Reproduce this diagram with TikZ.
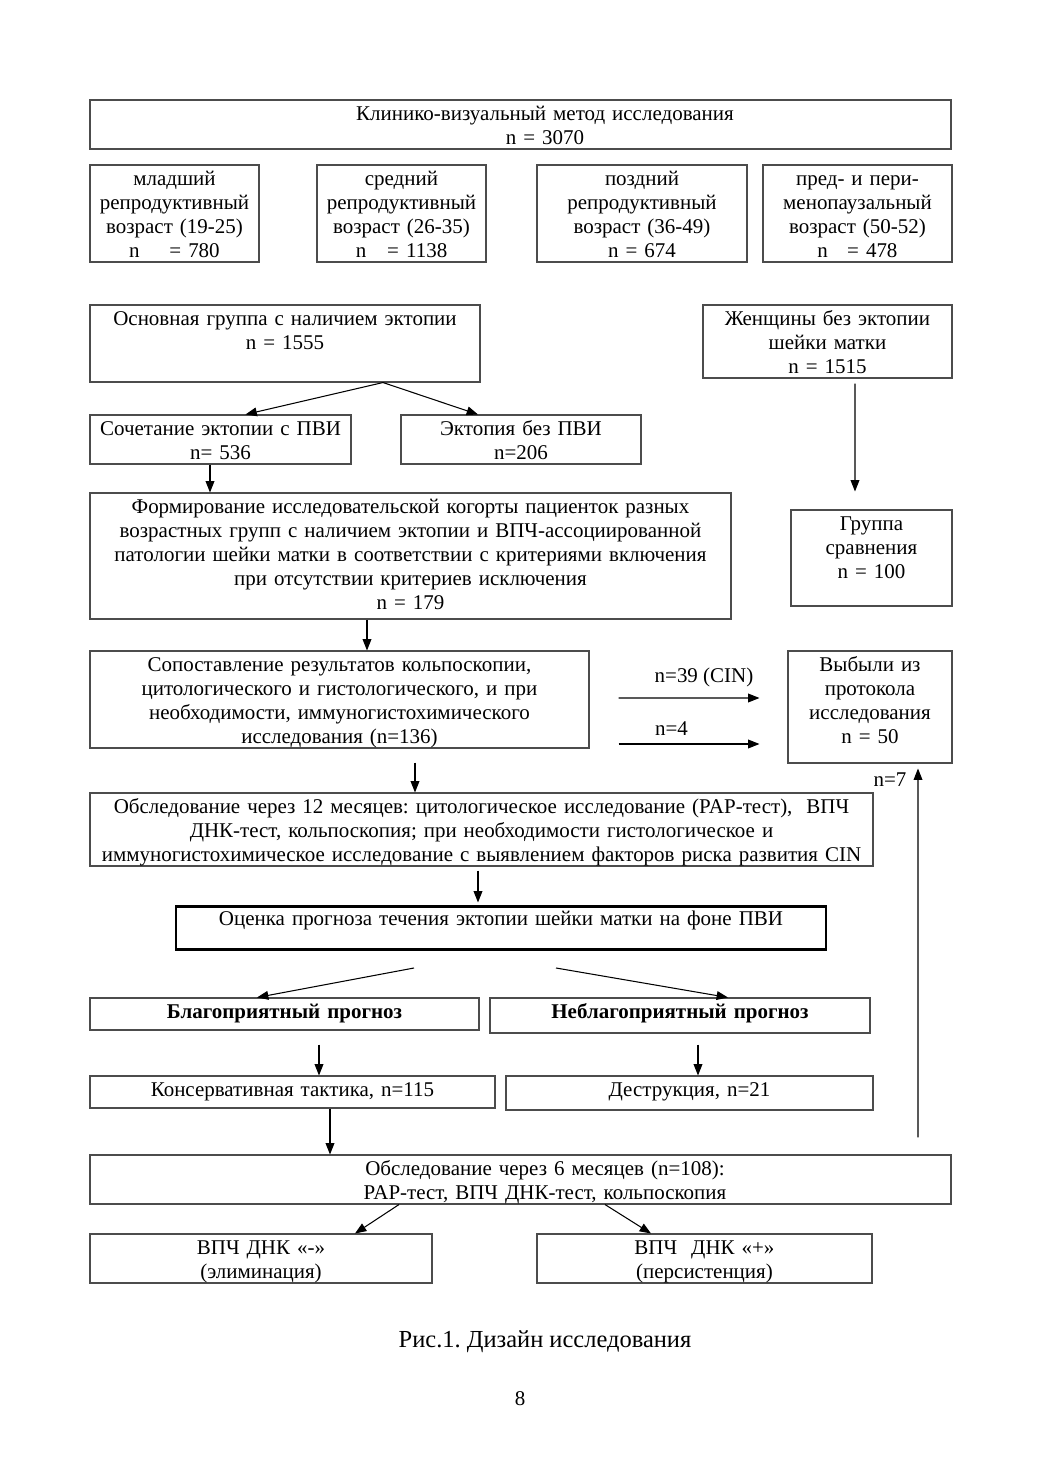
\documentclass[tikz,border=0pt]{standalone}
\usepackage{fontspec}
\setmainfont{Liberation Serif}
\usetikzlibrary{fit,calc,arrows.meta}
\frenchspacing
\tikzset{
  frame/.style={draw=black!70, line width=0.6pt, inner sep=0pt},
  heavy frame/.style={draw=black, line width=1.7pt, inner sep=0pt},
  lbl/.style={anchor=north, align=center, text width=500pt, inner sep=0.5pt, yshift=-1.7pt,
    font=\fontsize{12}{13.73}\selectfont, execute at begin node=\strut},
  note/.style={inner sep=0pt, font=\fontsize{12}{13.73}\selectfont},
  arr/.style={-{Triangle[length=6.5pt,width=5pt]}, line width=0.6pt},
}
\begin{document}
\begin{tikzpicture}[x=0.572pt,y=-0.572pt]
\fill[white] (0,0) rectangle (1040,1473);
\useasboundingbox (0,0) rectangle (1040,1473);

\node[frame, fit={(90,100) (951,149)}] (top) {};
\node[lbl, xshift=14pt] (top-t) at (top.north) {Клинико-визуальный метод исследования\\n = 3070};

\node[frame, fit={(90,165) (259,262)}] (age1) {};
\node[frame, fit={(317,165) (486,262)}] (age2) {};
\node[frame, fit={(537,165) (747,262)}] (age3) {};
\node[frame, fit={(763,165) (952,262)}] (age4) {};
\node[lbl] (age1-t) at (age1.north) {младший\\репродуктивный\\возраст (19-25)\\n\hspace{17pt}= 780};
\node[lbl] (age2-t) at (age2.north) {средний\\репродуктивный\\возраст (26-35)\\n\hspace{12pt}= 1138};
\node[lbl] (age3-t) at (age3.north) {поздний\\репродуктивный\\возраст (36-49)\\n = 674};
\node[lbl] (age4-t) at (age4.north) {пред- и пери-\\менопаузальный\\возраст (50-52)\\n\hspace{11pt}= 478};

\node[frame, fit={(90,305) (480,382)}] (main) {};
\node[frame, fit={(703,305) (952,378)}] (noect) {};
\node[lbl] (main-t) at (main.north) {Основная группа с наличием эктопии\\n = 1555};
\node[lbl] (noect-t) at (noect.north) {Женщины без эктопии\\шейки матки\\n = 1515};

\node[frame, fit={(90,415) (351,464)}] (comb) {};
\node[frame, fit={(401,415) (641,464)}] (ect) {};
\node[lbl] (comb-t) at (comb.north) {Сочетание эктопии с ПВИ\\n= 536};
\node[lbl] (ect-t) at (ect.north) {Эктопия без ПВИ\\n=206};

\node[frame, fit={(90,493) (731,619)}] (form) {};
\node[frame, fit={(791,510) (952,606)}] (cmp) {};
\node[lbl] (form-t) at (form.north) {Формирование исследовательской когорты пациенток разных\\возрастных групп с наличием эктопии и ВПЧ-ассоциированной\\патологии шейки матки в соответствии с критериями включения\\при отсутствии критериев исключения\\n = 179};
\node[lbl] (cmp-t) at (cmp.north) {Группа\\сравнения\\n = 100};

\node[frame, fit={(90,651) (589,748)}] (comp) {};
\node[frame, fit={(788,651) (952,763)}] (out) {};
\node[lbl] (comp-t) at (comp.north) {Сопоставление результатов кольпоскопии,\\цитологического и гистологического, и при\\необходимости, иммуногистохимического\\исследования (n=136)};
\node[lbl] (out-t) at (out.north) {Выбыли из\\протокола\\исследования\\n = 50};

\node[frame, fit={(90,793) (873,866)}] (fu12) {};
\node[lbl] (fu12-t) at (fu12.north) {Обследование через 12 месяцев: цитологическое исследование (PAP-тест),~~ВПЧ\\ДНК-тест, кольпоскопия; при необходимости гистологическое и\\иммуногистохимическое исследование с выявлением факторов риска развития CIN};

\node[heavy frame, fit={(176,906) (826,949)}] (progn) {};
\node[lbl] (progn-t) at (progn.north) {Оценка прогноза течения эктопии шейки матки на фоне ПВИ};

\node[frame, fit={(90,998) (479,1030)}] (good) {};
\node[frame, fit={(490,998) (870,1033)}] (bad) {};
\node[lbl] (good-t) at (good.north) {\textbf{Благоприятный прогноз}};
\node[lbl] (bad-t) at (bad.north) {\textbf{Неблагоприятный прогноз}};

\node[frame, fit={(90,1076) (495,1108)}] (cons) {};
\node[frame, fit={(506,1076) (873,1110)}] (destr) {};
\node[lbl] (cons-t) at (cons.north) {Консервативная тактика, n=115};
\node[lbl] (destr-t) at (destr.north) {Деструкция, n=21};

\node[frame, fit={(90,1155) (951,1204)}] (fu6) {};
\node[lbl, xshift=14pt] (fu6-t) at (fu6.north) {Обследование через 6 месяцев (n=108):\\PAP-тест, ВПЧ ДНК-тест, кольпоскопия};

\node[frame, fit={(90,1234) (432,1283)}] (neg) {};
\node[frame, fit={(537,1234) (872,1283)}] (pos) {};
\node[lbl] (neg-t) at (neg.north) {ВПЧ ДНК «-»\\(элиминация)};
\node[lbl] (pos-t) at (pos.north) {ВПЧ~~ДНК «+»\\(персистенция)};

\draw[arr] ($(main.south)+(98,0)$) -- ($(comb.north)+(25,0)$);
\draw[arr] ($(main.south)+(98,0)$) -- ($(ect.north)+(-43,0)$);
\draw[arr] ($(noect.south)+(27.5,5)$) -- ($(cmp.north)+(-16.5,-18)$);
\draw[arr] ($(comb.south)+(-10.5,0)$) coordinate (c1) -- (c1 |- form.north);
\draw[arr] ($(form.south)+(-43.5,0)$) coordinate (c2) -- (c2 |- comp.north);

\draw[arr] ($(comp.east)+(29,-1.5)$) -- ($(out.west)+(-28,-9)$);
\draw[arr] ($(comp.east)+(29,44.5)$) -- ($(out.west)+(-28,37)$);
\node[note, anchor=base] (n39) at (704,682) {n=39 (CIN)};
\node[note, anchor=base] (n4) at (671.5,735) {n=4};

\draw[arr] ($(comp.south)+(75.5,14)$) coordinate (c3) -- (c3 |- fu12.north);
\draw[arr] ($(fu12.south)+(-3.5,4)$) coordinate (c4) -- ($(c4 |- progn.north)+(0,-2)$);

\draw[arr] ($(progn.south)+(-87,17.5)$) -- ($(good.north)+(-27.5,0)$);
\draw[arr] ($(progn.south)+(55,17.5)$) -- ($(bad.north)+(48,0)$);
\draw[arr] ($(good.south)+(34.5,14)$) coordinate (c5) -- (c5 |- cons.north);
\draw[arr] ($(bad.south)+(18,11)$) coordinate (c6) -- (c6 |- destr.north);
\draw[arr] ($(cons.south)+(37.5,0)$) coordinate (c7) -- (c7 |- fu6.north);

\draw[arr] ($(fu6.south)+(-121.5,0)$) -- ($(neg.north)+(94,0)$);
\draw[arr] ($(fu6.south)+(84.5,0)$) -- ($(pos.north)+(-53.5,0)$);

\draw[arr] ($(fu6.north)+(397.5,-17)$) -- ($(out.south)+(48,5)$);
\node[note, anchor=base] (n7) at (890,786) {n=7};

\node[note, font=\fontsize{14}{16}\selectfont, anchor=base] (cap) at (545,1347) {Рис.1. Дизайн исследования};
\node[note, anchor=base] (page) at (520,1405) {8};
\end{tikzpicture}
\end{document}
